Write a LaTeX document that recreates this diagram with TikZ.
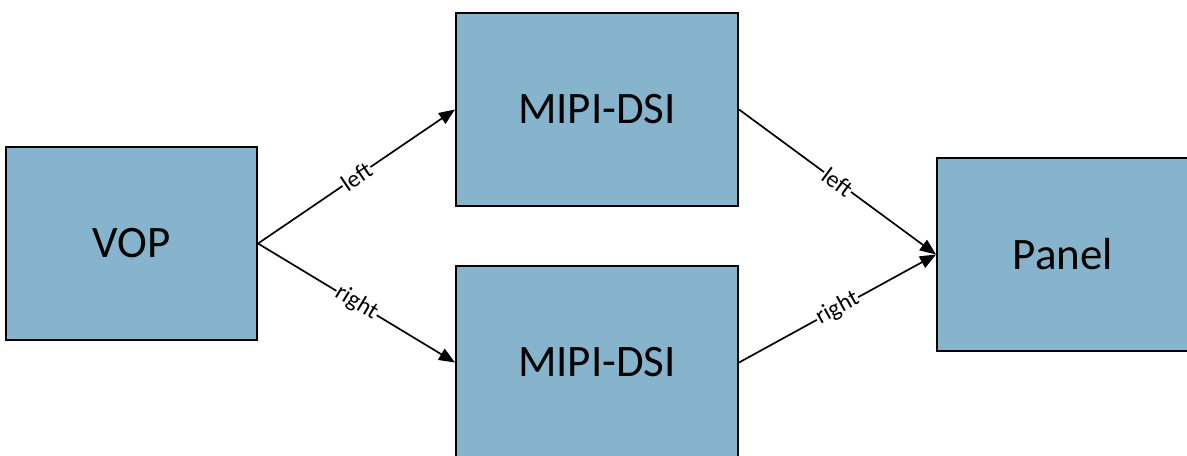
\documentclass[tikz,border=0pt]{standalone}
\usepackage{fontspec}
\setmainfont{Carlito}
\usetikzlibrary{arrows.meta}

\definecolor{boxblue}{RGB}{134,180,204}

\tikzset{
  block/.style={draw=black, line width=1.4pt, fill=boxblue, minimum height=4.825cm,
    inner sep=0pt, font=\fontsize{32}{38}\selectfont},
  link/.style={line width=1.2pt, -{Triangle[length=0.4cm, width=0.32cm]}},
  tag/.style={fill=white, inner sep=0.5pt, sloped, font=\fontsize{17}{19}\selectfont}
}

\begin{document}
\begin{tikzpicture}[x=0.025cm, y=-0.025cm]

\useasboundingbox (0,0) rectangle (1187,455);

\node[block, minimum width=6.275cm] (vop) at (131.5,243.5) {VOP};
\node[block, minimum width=7.05cm] (dsiA) at (597,109.5) {MIPI-DSI};
\node[block, minimum width=7.05cm] (dsiB) at (597,362.5) {MIPI-DSI};
\node[block, minimum width=6.3cm] (panel) at (1063,254.5) {Panel};

\draw[link] (vop.east) -- node[tag] {left} (dsiA.west);
\draw[link] (vop.east) -- node[tag] {right} (dsiB.west);
\draw[link] (dsiA.east) -- node[tag] {left} (panel.west);
\draw[link] (dsiB.east) -- node[tag] {right} (panel.west);

\end{tikzpicture}
\end{document}
